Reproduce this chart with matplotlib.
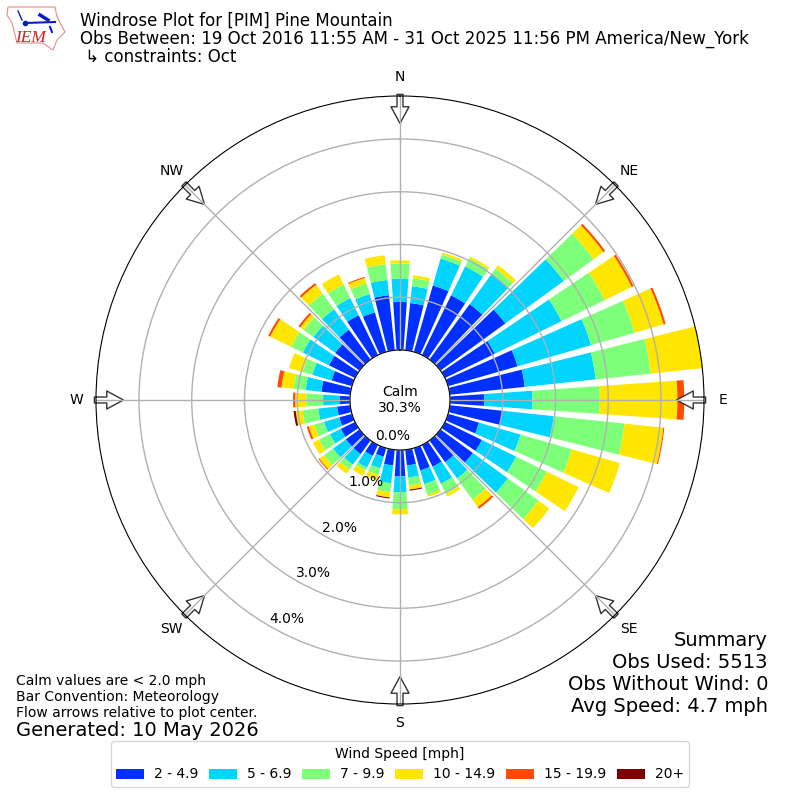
import numpy as np
import matplotlib
matplotlib.use("Agg")
import matplotlib.pyplot as plt
from matplotlib.patches import Polygon
from matplotlib.lines import Line2D

# percent of obs per 10 degree direction bin, starts at north and goes clockwise
directions = list(range(0, 360, 10))
speed_2_5 = [0.91, 0.90, 1.31, 1.26, 1.30, 1.52, 1.05, 1.37, 1.43, 0.65, 1.01, 0.61,
             0.78, 0.76, 0.51, 0.46, 0.44, 0.30, 0.50, 0.30, 0.17, 0.23, 0.32, 0.32,
             0.30, 0.25, 0.25, 0.19, 0.55, 0.40, 0.55, 0.57, 0.70, 0.84, 0.78, 1.05]
speed_5_7 = [0.44, 0.32, 0.53, 0.61, 0.70, 1.37, 1.41, 1.45, 1.35, 0.91, 0.97, 0.82,
             0.72, 0.82, 0.38, 0.36, 0.27, 0.23, 0.30, 0.34, 0.23, 0.25, 0.25, 0.30,
             0.23, 0.30, 0.36, 0.32, 0.30, 0.38, 0.55, 0.51, 0.48, 0.36, 0.36, 0.29]
speed_7_10 = [0.29, 0.15, 0.08, 0.17, 0.13, 0.70, 0.91, 0.86, 1.05, 1.28, 1.35, 1.01,
              0.65, 0.72, 0.50, 0.21, 0.21, 0.15, 0.32, 0.17, 0.13, 0.06, 0.11, 0.21,
              0.23, 0.19, 0.30, 0.32, 0.23, 0.19, 0.25, 0.23, 0.36, 0.29, 0.21, 0.30]
speed_10_15 = [0.06, 0.06, 0.04, 0.04, 0.08, 0.23, 0.57, 0.57, 1.01, 1.47, 0.74, 0.95,
               0.67, 0.25, 0.17, 0.06, 0.04, 0.08, 0.10, 0.10, 0.10, 0.11, 0.10, 0.11,
               0.13, 0.11, 0.13, 0.21, 0.23, 0.27, 0.44, 0.08, 0.21, 0.21, 0.11, 0.17]
speed_15_20 = [0, 0, 0, 0, 0, 0.04, 0.04, 0.04, 0, 0.13, 0.02, 0,
               0, 0, 0.04, 0, 0, 0, 0, 0, 0, 0, 0, 0.02,
               0, 0.04, 0, 0.04, 0.08, 0, 0.04, 0.04, 0.04, 0, 0.02, 0]
speed_20_up = [0, 0, 0, 0, 0, 0, 0, 0, 0, 0, 0, 0,
               0, 0, 0, 0, 0, 0.02, 0, 0.02, 0, 0, 0, 0,
               0, 0, 0.04, 0, 0, 0, 0, 0, 0, 0, 0, 0]

speed_labels = ["2 - 4.9", "5 - 6.9", "7 - 9.9", "10 - 14.9", "15 - 19.9", "20+"]
speed_colors = ["#0030ff", "#00d4ff", "#7dff7a", "#ffe600", "#ff4a00", "#800000"]
all_speeds = [speed_2_5, speed_5_7, speed_7_10, speed_10_15, speed_15_20, speed_20_up]

compass_deg = [0, 45, 90, 135, 180, 225, 270, 315]
compass_labels = ["N", "NE", "E", "SE", "S", "SW", "W", "NW"]
r_ticks = [0, 1, 2, 3, 4]

fig = plt.figure(figsize=(8, 8), dpi=100)
ax = fig.add_axes([0.12, 0.12, 0.76, 0.76], projection="polar")
ax.set_theta_zero_location("N")
ax.set_theta_direction(-1)

theta = np.radians(directions)
bottom = np.zeros(len(directions))
for vals, label, color in zip(all_speeds, speed_labels, speed_colors):
    ax.bar(theta, vals, width=np.radians(8), bottom=bottom, color=color,
           label=label, linewidth=0)
    bottom += np.array(vals)

rmax = 4.815
ax.set_ylim(0, rmax)
ax.set_rorigin(-0.948)
ax.set_rticks(r_ticks)
ax.set_yticklabels(["%.1f%%" % r for r in r_ticks], fontsize=10)
ax.set_rlabel_position(210)
ax.set_thetagrids(compass_deg, compass_labels, fontsize=10)
ax.tick_params(axis="x", pad=3.5)
ax.grid(True, color="#b0b0b0", linewidth=1)

# flow arrows on the outer edge, pointing at the center
for deg in compass_deg:
    ax.annotate("", xy=(np.radians(deg), rmax - 0.52), xytext=(np.radians(deg), rmax + 0.03),
                arrowprops=dict(facecolor="white", edgecolor="#333333", width=4.3,
                                headwidth=13, headlength=12, linewidth=1, shrink=0),
                zorder=1.2, annotation_clip=False)

ax.text(0.5, 0.5, "Calm\n30.3%", transform=ax.transAxes, ha="center", va="center", fontsize=10)

fig.text(0.1, 0.9855, "Windrose Plot for [PIM] Pine Mountain\n"
         "Obs Between: 19 Oct 2016 11:55 AM - 31 Oct 2025 11:56 PM America/New_York\n"
         " \u21b3 constraints: Oct", ha="left", va="top", fontsize=12, linespacing=1.0)
fig.text(0.96, 0.1055, "Summary\nObs Used: 5513\nObs Without Wind: 0\nAvg Speed: 4.7 mph",
         ha="right", va="bottom", fontsize=14)
fig.text(0.02, 0.1, "Calm values are < 2.0 mph\nBar Convention: Meteorology\n"
         "Flow arrows relative to plot center.", ha="left", va="bottom", fontsize=10)
fig.text(0.02, 0.075, "Generated: 10 May 2026", ha="left", va="bottom", fontsize=14)

fig.legend(loc="lower center", bbox_to_anchor=(0.5, 0.0075), ncol=6, title="Wind Speed [mph]",
           fontsize=10, title_fontsize=10, handlelength=2, handletextpad=0.7,
           columnspacing=0.8)

# little IEM logo, pixel coordinates of the corner
logo = fig.add_axes([0, 0.93, 0.0875, 0.07])
logo.set_xlim(0, 70)
logo.set_ylim(56, 0)
logo.axis("off")
outline = [(8, 7), (55, 7), (57, 17), (65, 32), (57, 40), (53, 50), (43, 43), (17, 43),
           (15, 35), (12, 23), (7, 15)]
logo.add_patch(Polygon(outline, closed=True, facecolor="white", edgecolor="#e8898b", linewidth=0.8))
logo.add_line(Line2D([25, 55], [23, 22], color="#0a1fc0", linewidth=1.5))
logo.add_line(Line2D([18, 22], [11, 20], color="#0a1fc0", linewidth=1))
logo.add_line(Line2D([40, 48], [15, 20], color="#0a1fc0", linewidth=2.5))
logo.add_line(Line2D([50, 52], [27, 32], color="#0a1fc0", linewidth=1.5))
logo.plot([25], [23], marker="o", markersize=3, color="#0a1fc0")
logo.text(15, 38, "IEM", family="Liberation Serif", style="italic", color="#d62020",
          fontsize=12.5, ha="left", va="center")

plt.savefig("out.png", dpi=100)
